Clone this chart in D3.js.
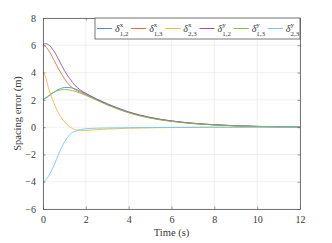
<!DOCTYPE html>
<html>
<head>
<meta charset="utf-8">
<script src="https://cdn.jsdelivr.net/npm/d3@7"></script>
<style>
  body { margin: 0; background: #fff; }
  #chart text { font-family: 'Liberation Serif', 'Times New Roman', serif !important; }
</style>
</head>
<body>
<svg id="chart" width="332" height="243"></svg>
<script>
// time samples (s)
var time = [0, 0.1, 0.25, 0.5, 0.75, 1, 1.25, 1.5, 1.75, 2, 2.5, 3, 3.5, 4, 5, 6, 7, 8, 9, 10, 11, 12];

// spacing errors (m)
var dx12 = [2.0, 2.1, 2.25, 2.55, 2.78, 2.9, 2.9, 2.8, 2.63, 2.45, 2.07, 1.72, 1.4, 1.12, 0.72, 0.46, 0.29, 0.18, 0.1, 0.06, 0.03, 0.01];
var dx13 = [6.0, 5.95, 5.65, 4.95, 4.2, 3.55, 3.05, 2.75, 2.55, 2.38, 2.0, 1.65, 1.34, 1.07, 0.68, 0.44, 0.27, 0.17, 0.1, 0.05, 0.02, 0.01];
var dx23 = [4.0, 3.75, 2.9, 1.8, 0.95, 0.4, 0.02, -0.18, -0.24, -0.24, -0.19, -0.14, -0.11, -0.08, -0.05, -0.03, -0.02, -0.01, -0.01, 0, 0, 0];
var dy12 = [6.05, 6.12, 6.05, 5.6, 4.9, 4.15, 3.55, 3.05, 2.72, 2.48, 2.05, 1.68, 1.37, 1.1, 0.7, 0.45, 0.28, 0.17, 0.1, 0.05, 0.02, 0.01];
var dy13 = [2.0, 2.12, 2.3, 2.55, 2.7, 2.75, 2.72, 2.62, 2.48, 2.33, 1.98, 1.63, 1.32, 1.05, 0.66, 0.42, 0.26, 0.16, 0.09, 0.05, 0.02, 0.01];
var dy23 = [-4.0, -3.92, -3.6, -2.85, -1.9, -1.1, -0.55, -0.3, -0.18, -0.12, -0.08, -0.06, -0.05, -0.04, -0.03, -0.02, -0.01, -0.01, 0, 0, 0, 0];

var seriesNames = [["x", "1,2"], ["x", "1,3"], ["x", "2,3"], ["y", "1,2"], ["y", "1,3"], ["y", "2,3"]];
var seriesValues = [dx12, dx13, dx23, dy12, dy13, dy23];
var colors = ["#3b93d3", "#e0703f", "#f0bb3f", "#9552a3", "#88bb4a", "#6ccaf0"];

var xTicks = [0, 2, 4, 6, 8, 10, 12];
var yTicks = [-6, -4, -2, 0, 2, 4, 6, 8];

var margins = {top: 18, bottom: 34, left: 43, right: 32},
    width = 332, height = 243;

var x = d3.scaleLinear().domain([0, 12]).range([margins.left, width - margins.right]);
var y = d3.scaleLinear().domain([-6, 8]).range([height - margins.bottom, margins.top]);

var svg = d3.select("#chart");

// grid
var grid = svg.append("g");
grid.selectAll(".gx").data(xTicks).enter().append("line")
    .attr("x1", d => x(d)).attr("x2", d => x(d))
    .attr("y1", y(-6)).attr("y2", y(8))
    .attr("stroke", "#e6e6e6").attr("stroke-width", 0.6);
grid.selectAll(".gy").data(yTicks).enter().append("line")
    .attr("y1", d => y(d)).attr("y2", d => y(d))
    .attr("x1", x(0)).attr("x2", x(12))
    .attr("stroke", "#e6e6e6").attr("stroke-width", 0.6);

// lines
var line = d3.line()
    .x((d, i) => x(time[i]))
    .y(d => y(d))
    .curve(d3.curveMonotoneX);

svg.append("g").selectAll("path")
    .data(seriesValues).enter()
    .append("path")
    .attr("d", line)
    .attr("fill", "none")
    .attr("stroke", (d, i) => colors[i])
    .attr("stroke-width", 0.9);

// axes (MATLAB style, ticks inside, box on)
function styleAxis(g) {
    g.attr("font-size", 10);
    g.selectAll("path").attr("stroke", "#555").attr("stroke-width", 0.8);
    g.selectAll("line").attr("stroke", "#555").attr("stroke-width", 0.6);
    g.selectAll("text").attr("fill", "#3a3a3a");
}

svg.append("g")
    .attr("transform", `translate(0,${y(-6)})`)
    .call(d3.axisBottom(x).tickValues(xTicks).tickSize(-2.5).tickPadding(7).tickSizeOuter(0))
    .call(styleAxis);
svg.append("g")
    .attr("transform", `translate(0,${y(8)})`)
    .call(d3.axisTop(x).tickValues(xTicks).tickSize(-2.5).tickFormat("").tickSizeOuter(0))
    .call(styleAxis);
svg.append("g")
    .attr("transform", `translate(${x(0)},0)`)
    .call(d3.axisLeft(y).tickValues(yTicks).tickSize(-2.5).tickPadding(7).tickSizeOuter(0))
    .call(styleAxis);
svg.append("g")
    .attr("transform", `translate(${x(12)},0)`)
    .call(d3.axisRight(y).tickValues(yTicks).tickSize(-2.5).tickFormat("").tickSizeOuter(0))
    .call(styleAxis);

// axis labels
svg.append("text")
    .attr("x", (x(0) + x(12)) / 2).attr("y", 236)
    .attr("text-anchor", "middle").attr("font-size", 10.5).attr("fill", "#3a3a3a")
    .text("Time (s)");
svg.append("text")
    .attr("transform", `translate(21,${(y(-6) + y(8)) / 2}) rotate(-90)`)
    .attr("text-anchor", "middle").attr("font-size", 10.5).attr("fill", "#3a3a3a")
    .text("Spacing error (m)");

// legend
var legX = 95, legY = y(8), legW = x(12) - legX, legH = 21, entryW = legW / 6;
var leg = svg.append("g");
leg.append("rect")
    .attr("x", legX).attr("y", legY).attr("width", legW).attr("height", legH)
    .attr("fill", "#fff").attr("stroke", "#555").attr("stroke-width", 0.8);

var entries = leg.selectAll(".entry").data(seriesNames).enter().append("g")
    .attr("transform", (d, i) => `translate(${legX + 2 + i * entryW},${legY + legH / 2})`);
entries.append("line")
    .attr("x1", 0).attr("x2", 15).attr("y1", 0).attr("y2", 0)
    .attr("stroke", (d, i) => colors[i]).attr("stroke-width", 1);
var lt = entries.append("text").attr("x", 18).attr("y", 3).attr("font-size", 10).attr("fill", "#3a3a3a");
lt.append("tspan").attr("font-style", "italic").text("δ");
lt.append("tspan").attr("dy", -5).attr("font-size", 7).text(d => d[0]);
lt.append("tspan").attr("dx", -3.5).attr("dy", 9).attr("font-size", 7).text(d => d[1]);
</script>
</body>
</html>
